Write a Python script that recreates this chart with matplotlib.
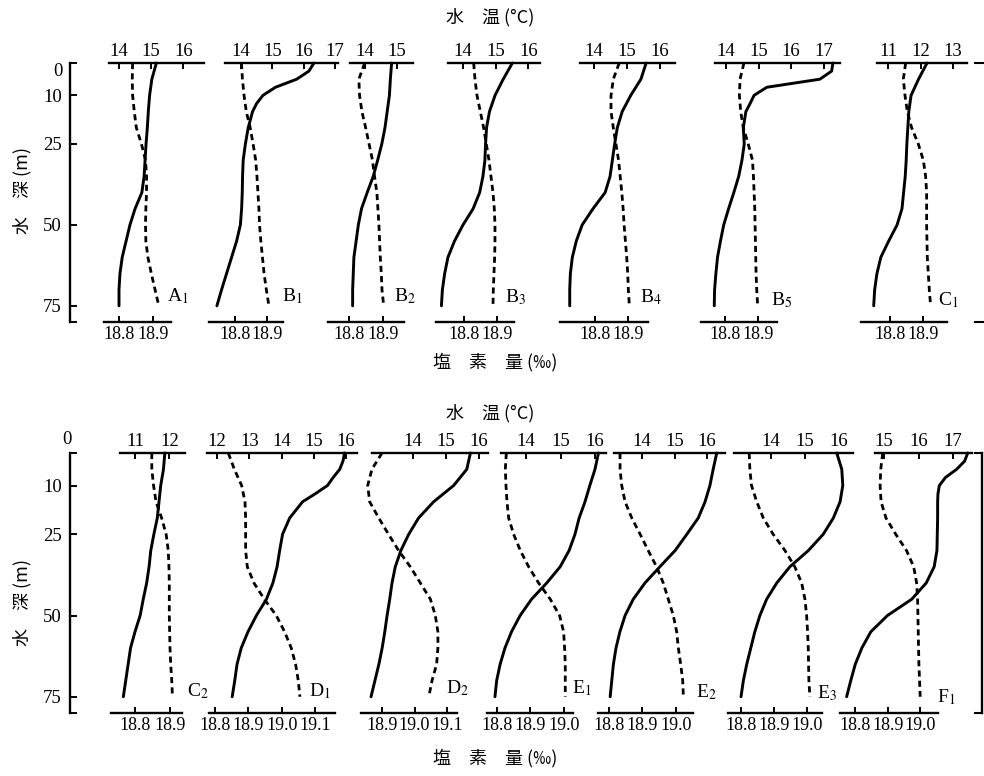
import matplotlib
matplotlib.use('Agg')
import matplotlib.pyplot as plt
from matplotlib.lines import Line2D

plt.rcParams['font.family'] = ['Liberation Serif', 'DejaVu Serif']
plt.rcParams['mathtext.fontset'] = 'stix'
CJK = ['Noto Sans CJK JP', 'DejaVu Sans']

# ---- data: depth (m), water temperature (°C), chlorinity (‰) ----
depth = [0, 5, 10, 15, 20, 25, 30, 35, 40, 45, 50, 55, 60, 65, 70, 75]
depth_fine = [0, 2.5, 5, 7.5, 10, 12.5, 15, 20, 25, 30, 35, 40, 45, 50, 55, 60, 65, 70, 75]
depth_ticks = [0, 10, 25, 50, 75]

temp_A1 = [15.16, 15.02, 14.95, 14.91, 14.88, 14.84, 14.81, 14.78, 14.71, 14.50, 14.34, 14.22, 14.10, 14.03, 14.00, 14.00]
chl_A1 = [18.840, 18.839, 18.840, 18.845, 18.851, 18.866, 18.878, 18.881, 18.881, 18.879, 18.878, 18.879, 18.885, 18.895, 18.906, 18.917]

temp_B1 = [16.33, 16.17, 15.78, 15.10, 14.70, 14.50, 14.37, 14.23, 14.14, 14.07, 14.05, 14.04, 14.02, 13.98, 13.86, 13.70, 13.54, 13.38, 13.23]
chl_B1 = [18.820, 18.823, 18.828, 18.835, 18.847, 18.856, 18.864, 18.868, 18.871, 18.874, 18.876, 18.880, 18.885, 18.890, 18.897, 18.905]

temp_B2 = [14.84, 14.80, 14.77, 14.70, 14.63, 14.53, 14.40, 14.26, 14.07, 13.89, 13.79, 13.72, 13.65, 13.63, 13.61, 13.61]
chl_B2 = [18.846, 18.829, 18.831, 18.838, 18.849, 18.859, 18.869, 18.875, 18.882, 18.885, 18.888, 18.890, 18.892, 18.895, 18.897, 18.902]

temp_B3 = [15.51, 15.23, 14.98, 14.81, 14.72, 14.69, 14.67, 14.61, 14.51, 14.31, 14.00, 13.74, 13.54, 13.44, 13.37, 13.34]
chl_B3 = [18.829, 18.833, 18.839, 18.849, 18.859, 18.867, 18.875, 18.881, 18.887, 18.891, 18.893, 18.893, 18.892, 18.890, 18.888, 18.887]

temp_B4 = [15.59, 15.43, 15.12, 14.86, 14.71, 14.63, 14.56, 14.49, 14.34, 13.97, 13.64, 13.46, 13.34, 13.28, 13.26, 13.26]
chl_B4 = [18.874, 18.856, 18.849, 18.849, 18.856, 18.864, 18.872, 18.877, 18.882, 18.886, 18.889, 18.893, 18.897, 18.900, 18.902, 18.905]

temp_B5 = [17.28, 17.24, 16.88, 15.25, 14.86, 14.74, 14.61, 14.53, 14.56, 14.49, 14.39, 14.24, 14.08, 13.93, 13.83, 13.74, 13.69, 13.65, 13.64]
chl_B5 = [18.858, 18.846, 18.844, 18.848, 18.856, 18.871, 18.884, 18.887, 18.889, 18.891, 18.892, 18.893, 18.894, 18.895, 18.897, 18.900]

temp_C1 = [12.20, 11.94, 11.71, 11.64, 11.61, 11.58, 11.56, 11.53, 11.48, 11.43, 11.28, 11.02, 10.78, 10.66, 10.59, 10.56]
chl_C1 = [18.847, 18.840, 18.845, 18.852, 18.865, 18.885, 18.900, 18.907, 18.910, 18.910, 18.910, 18.911, 18.912, 18.915, 18.918, 18.922]

temp_C2 = [11.87, 11.83, 11.75, 11.70, 11.65, 11.55, 11.46, 11.41, 11.34, 11.24, 11.15, 11.00, 10.87, 10.80, 10.73, 10.66]
chl_C2 = [18.848, 18.848, 18.853, 18.860, 18.876, 18.889, 18.895, 18.897, 18.898, 18.898, 18.898, 18.899, 18.900, 18.902, 18.905, 18.907]

temp_D1 = [15.95, 15.90, 15.80, 15.60, 15.42, 15.05, 14.65, 14.25, 14.03, 13.94, 13.86, 13.73, 13.53, 13.22, 12.96, 12.75, 12.62, 12.55, 12.47]
chl_D1 = [18.840, 18.858, 18.880, 18.890, 18.892, 18.892, 18.892, 18.897, 18.917, 18.948, 18.984, 19.009, 19.029, 19.042, 19.050, 19.055]

temp_D2 = [15.75, 15.64, 15.24, 14.63, 14.17, 13.87, 13.63, 13.46, 13.36, 13.29, 13.21, 13.14, 13.06, 12.96, 12.84, 12.72]
chl_D2 = [18.900, 18.869, 18.856, 18.862, 18.890, 18.920, 18.951, 18.987, 19.018, 19.049, 19.064, 19.072, 19.072, 19.068, 19.054, 19.044]

temp_E1 = [16.10, 16.00, 15.85, 15.71, 15.54, 15.42, 15.25, 14.99, 14.60, 14.16, 13.83, 13.58, 13.39, 13.25, 13.15, 13.10]
chl_E1 = [18.828, 18.825, 18.827, 18.830, 18.835, 18.850, 18.870, 18.895, 18.925, 18.960, 18.988, 19.000, 19.003, 19.005, 19.005, 19.005]

temp_E2 = [16.30, 16.19, 16.09, 15.94, 15.73, 15.38, 15.02, 14.55, 14.09, 13.73, 13.48, 13.32, 13.20, 13.12, 13.07, 13.02]
chl_E2 = [18.833, 18.833, 18.838, 18.848, 18.868, 18.893, 18.917, 18.942, 18.962, 18.977, 18.992, 19.002, 19.007, 19.014, 19.020, 19.022]

temp_E3 = [15.95, 16.10, 16.13, 16.05, 15.85, 15.55, 15.11, 14.56, 14.17, 13.87, 13.67, 13.52, 13.40, 13.28, 13.18, 13.11]
chl_E3 = [18.825, 18.827, 18.832, 18.848, 18.868, 18.898, 18.934, 18.964, 18.985, 18.995, 19.000, 19.003, 19.005, 19.006, 19.007, 19.010]

temp_F1 = [17.42, 17.33, 17.10, 16.78, 16.60, 16.56, 16.55, 16.55, 16.54, 16.53, 16.45, 16.22, 15.80, 15.10, 14.62, 14.36, 14.17, 14.04, 13.92]
chl_F1 = [18.885, 18.879, 18.877, 18.880, 18.895, 18.925, 18.958, 18.980, 18.989, 18.992, 18.993, 18.994, 18.995, 18.996, 18.998, 19.000]

# ---- layout (pixels of the 984x776 canvas) ----
W, H = 984, 776
ROWS = [(63, 322), (453, 713)]

# label, row, temp line x-range, temp ticks, px of first tick, px per degree,
# chlorinity line x-range, chl ticks, px of first tick, px per 0.1, label position, data
panels = [
    dict(lab='A$_1$', row=0, tl=(109, 204), tt=[14, 15, 16], t0=119, tk=32.2,
         sl=(104, 171), st=[18.8, 18.9], s0=119, sk=34.0, xy=(178, 296), dt=depth, T=temp_A1, C=chl_A1),
    dict(lab='B$_1$', row=0, tl=(225, 338), tt=[14, 15, 16, 17], t0=241, tk=31.3,
         sl=(209, 283), st=[18.8, 18.9], s0=235, sk=32.3, xy=(292, 296), dt=depth_fine, T=temp_B1, C=chl_B1),
    dict(lab='B$_2$', row=0, tl=(350, 413), tt=[14, 15], t0=365, tk=31.7,
         sl=(328, 404), st=[18.8, 18.9], s0=349, sk=34.0, xy=(405, 296), dt=depth, T=temp_B2, C=chl_B2),
    dict(lab='B$_3$', row=0, tl=(448, 540), tt=[14, 15, 16], t0=463, tk=32.7,
         sl=(436, 514), st=[18.8, 18.9], s0=464, sk=33.3, xy=(516, 297), dt=depth, T=temp_B3, C=chl_B3),
    dict(lab='B$_4$', row=0, tl=(580, 675), tt=[14, 15, 16], t0=594, tk=32.8,
         sl=(560, 648), st=[18.8, 18.9], s0=595, sk=32.7, xy=(651, 297), dt=depth, T=temp_B4, C=chl_B4),
    dict(lab='B$_5$', row=0, tl=(715, 840), tt=[14, 15, 16, 17], t0=726, tk=32.6,
         sl=(701, 777), st=[18.8, 18.9], s0=725, sk=32.7, xy=(782, 300), dt=depth_fine, T=temp_B5, C=chl_B5),
    dict(lab='C$_1$', row=0, tl=(877, 967), tt=[11, 12, 13], t0=888, tk=32.5,
         sl=(861, 947), st=[18.8, 18.9], s0=890, sk=33.3, xy=(948, 300), dt=depth, T=temp_C1, C=chl_C1),
    dict(lab='C$_2$', row=1, tl=(120, 185), tt=[11, 12], t0=135, tk=34.3,
         sl=(111, 182), st=[18.8, 18.9], s0=135, sk=35.0, xy=(198, 691), dt=depth, T=temp_C2, C=chl_C2),
    dict(lab='D$_1$', row=1, tl=(207, 357), tt=[12, 13, 14, 15, 16], t0=217, tk=32.3,
         sl=(209, 335), st=[18.8, 18.9, 19.0, 19.1], s0=215, sk=33.3, xy=(320, 691), dt=depth_fine, T=temp_D1, C=chl_D1),
    dict(lab='D$_2$', row=1, tl=(372, 488), tt=[14, 15, 16], t0=413, tk=32.8,
         sl=(361, 457), st=[18.9, 19.0, 19.1], s0=382, sk=32.5, xy=(457, 688), dt=depth, T=temp_D2, C=chl_D2),
    dict(lab='E$_1$', row=1, tl=(501, 606), tt=[14, 15, 16], t0=526, tk=34.5,
         sl=(487, 573), st=[18.8, 18.9, 19.0], s0=497, sk=33.3, xy=(582, 688), dt=depth, T=temp_E1, C=chl_E1),
    dict(lab='E$_2$', row=1, tl=(614, 725), tt=[14, 15, 16], t0=642, tk=32.5,
         sl=(598, 693), st=[18.8, 18.9, 19.0], s0=609, sk=33.5, xy=(706, 692), dt=depth, T=temp_E2, C=chl_E2),
    dict(lab='E$_3$', row=1, tl=(734, 853), tt=[14, 15, 16], t0=771, tk=33.7,
         sl=(728, 822), st=[18.8, 18.9, 19.0], s0=741, sk=32.8, xy=(827, 693), dt=depth, T=temp_E3, C=chl_E3),
    dict(lab='F$_1$', row=1, tl=(875, 972), tt=[15, 16, 17], t0=884, tk=34.6,
         sl=(840, 938), st=[18.8, 18.9, 19.0], s0=855, sk=32.6, xy=(946, 697), dt=depth_fine, T=temp_F1, C=chl_F1),
]

fig = plt.figure(figsize=(W / 100, H / 100), dpi=100, facecolor='white')


def box(x0, x1, y0, y1):
    return [x0 / W, 1 - y1 / H, (x1 - x0) / W, (y1 - y0) / H]


def fxy(x, y):
    return x / W, 1 - y / H


def draw_panel(p):
    y0, y1 = ROWS[p['row']]
    left = min(p['tl'][0], p['sl'][0])
    right = max(p['tl'][1], p['sl'][1])
    t_of = lambda px: p['tt'][0] + (px - p['t0']) / p['tk']
    s_of = lambda px: p['st'][0] + (px - p['s0']) / p['sk'] * 0.1

    ax = fig.add_axes(box(left, right, y0, y1))
    ax2 = ax.twiny()
    ax.set_xlim(t_of(left), t_of(right))
    ax2.set_xlim(s_of(left), s_of(right))
    ax.set_ylim(80, 0)
    ax.patch.set_visible(False)
    ax.set_yticks([])
    for s in ['left', 'right', 'bottom']:
        ax.spines[s].set_visible(False)
    for s in ['left', 'right', 'top']:
        ax2.spines[s].set_visible(False)
    ax.spines['top'].set_bounds(t_of(p['tl'][0]), t_of(p['tl'][1]))
    ax2.spines['bottom'].set_bounds(s_of(p['sl'][0]), s_of(p['sl'][1]))
    ax.spines['top'].set_linewidth(1.7)
    ax2.spines['bottom'].set_linewidth(1.7)

    # temperature on top, chlorinity at the bottom
    ax.xaxis.tick_top()
    ax2.xaxis.tick_bottom()
    ax.set_xticks(p['tt'])
    ax.set_xticklabels([str(t) for t in p['tt']])
    ax2.set_xticks(p['st'])
    ax2.set_xticklabels(['%.1f' % s for s in p['st']])
    ax.tick_params(axis='x', direction='in', length=4, width=1.4, pad=2, labelsize=13.5)
    ax2.tick_params(axis='x', direction='in', length=4, width=1.4, pad=3, labelsize=13)

    ax.plot(p['T'], p['dt'], color='black', lw=2.1, clip_on=False,
            solid_capstyle='round', solid_joinstyle='round')
    ax2.plot(p['C'], depth, color='black', lw=2.0, dashes=(2.2, 1.5), clip_on=False)
    fig.text(*fxy(*p['xy']), p['lab'], ha='center', va='center', fontsize=14)


for p in panels:
    draw_panel(p)

# depth axes on the left
for r, (y0, y1) in enumerate(ROWS):
    axd = fig.add_axes(box(70, 71, y0, y1))
    axd.patch.set_visible(False)
    axd.set_ylim(80, 0)
    axd.set_xticks([])
    for s in ['top', 'right', 'bottom']:
        axd.spines[s].set_visible(False)
    axd.spines['left'].set_linewidth(1.7)
    axd.set_yticks(depth_ticks + [80])
    axd.set_yticklabels([''] + [str(d) for d in depth_ticks[1:]] + [''])
    axd.tick_params(axis='y', direction='in', length=5, width=1.4, labelsize=13.5, pad=6)

fig.text(*fxy(58, 71), '0', ha='center', va='center', fontsize=13.5)
fig.text(*fxy(67, 440), '0', ha='center', va='center', fontsize=13.5)

for yc in [190, 602]:
    fig.text(*fxy(22, yc), '水　深 (m)', rotation=90, ha='center', va='center',
             fontsize=13, family=CJK)

# edge of the next figure on the right
for yy in [63, 322]:
    fig.add_artist(Line2D([975 / W, 984 / W], [1 - yy / H] * 2, color='black', lw=1.5,
                          transform=fig.transFigure))
fig.add_artist(Line2D([982 / W] * 2, [1 - 453 / H, 1 - 713 / H], color='black', lw=1.7,
                      transform=fig.transFigure))
for yy in [453, 713]:
    fig.add_artist(Line2D([975 / W, 982 / W], [1 - yy / H] * 2, color='black', lw=1.5,
                          transform=fig.transFigure))

# axis titles
for yc in [17, 413]:
    fig.text(*fxy(490, yc), '水　温 (°C)', ha='center', va='center', fontsize=13, family=CJK)
for yc in [362, 758]:
    fig.text(*fxy(495, yc), '塩　素　量 (‰)', ha='center', va='center', fontsize=13, family=CJK)

fig.savefig('out.png', dpi=100, facecolor='white')
